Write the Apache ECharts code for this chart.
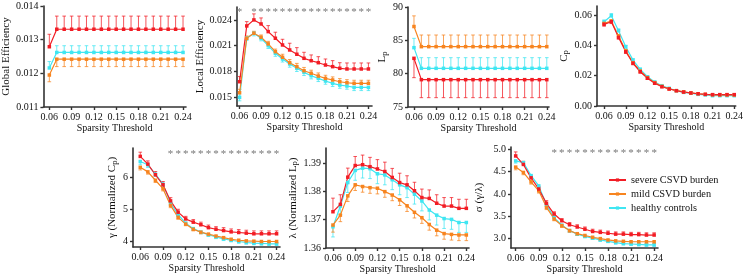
<!DOCTYPE html>
<html><head><meta charset="utf-8">
<script src="https://cdn.jsdelivr.net/npm/echarts@6/dist/echarts.min.js"></script>
<style>html,body{margin:0;padding:0;background:#fff}#c{width:746px;height:276px}</style>
</head><body><div id="c"></div>
<script>
// ---------- data ----------
const thresholds = [0.06,0.07,0.08,0.09,0.10,0.11,0.12,0.13,0.14,0.15,0.16,0.17,0.18,0.19,0.20,0.21,0.22,0.23,0.24];
const xTickValues = [0.06,0.09,0.12,0.15,0.18,0.21,0.24];
const groupNames = ['severe CSVD burden','mild CSVD burden','healthy controls'];

// Global efficiency
const geSevere  = [0.01279,0.01331,0.01331,0.01331,0.01331,0.01331,0.01331,0.01331,0.01331,0.01331,0.01331,0.01331,0.01331,0.01331,0.01331,0.01331,0.01331,0.01331,0.01331];
const geMild    = [0.01195,0.01242,0.01242,0.01242,0.01242,0.01242,0.01242,0.01242,0.01242,0.01242,0.01242,0.01242,0.01242,0.01242,0.01242,0.01242,0.01242,0.01242,0.01242];
const geHealthy = [0.01216,0.01262,0.01262,0.01262,0.01262,0.01262,0.01262,0.01262,0.01262,0.01262,0.01262,0.01262,0.01262,0.01262,0.01262,0.01262,0.01262,0.01262,0.01262];
const geSevereErr  = [0.00037,0.00039,0.00039,0.00039,0.00039,0.00039,0.00039,0.00039,0.00039,0.00039,0.00039,0.00039,0.00039,0.00039,0.00039,0.00039,0.00039,0.00039,0.00039];
const geMildErr    = [0.0002,0.00022,0.00022,0.00022,0.00022,0.00022,0.00022,0.00022,0.00022,0.00022,0.00022,0.00022,0.00022,0.00022,0.00022,0.00022,0.00022,0.00022,0.00022];
const geHealthyErr = [0.00019,0.0002,0.0002,0.0002,0.0002,0.0002,0.0002,0.0002,0.0002,0.0002,0.0002,0.0002,0.0002,0.0002,0.0002,0.0002,0.0002,0.0002,0.0002];
const geTicks = [0.011,0.012,0.013,0.014];

// Local efficiency
const leSevere  = [0.01682,0.0233,0.0240,0.02353,0.02264,0.02187,0.02109,0.02051,0.02001,0.01954,0.01926,0.01903,0.01876,0.01857,0.01838,0.0183,0.0183,0.0183,0.0183];
const leMild    = [0.01554,0.02187,0.02245,0.02199,0.02121,0.02031,0.01966,0.01903,0.01857,0.0181,0.0178,0.01748,0.01721,0.01702,0.01682,0.0167,0.01663,0.01663,0.01663];
const leHealthy = [0.0150,0.0219,0.02245,0.02187,0.02101,0.02012,0.01946,0.01888,0.01838,0.01791,0.01752,0.01721,0.0169,0.01663,0.01643,0.01632,0.01616,0.01616,0.01616];
const leSevereErr  = [0.0006,0.0005,0.0007,0.0007,0.0007,0.0007,0.00066,0.00078,0.00077,0.0007,0.00067,0.0007,0.0007,0.0007,0.00065,0.0007,0.0007,0.0007,0.0007];
const leMildErr    = [0.0004,0.00027,0.00023,0.00026,0.0003,0.0003,0.00035,0.00037,0.00038,0.00038,0.00036,0.00036,0.00036,0.00036,0.00036,0.00036,0.00036,0.00036,0.00036];
const leHealthyErr = [0.0004,0.0003,0.0003,0.0003,0.00033,0.00035,0.00035,0.00037,0.00037,0.00037,0.00037,0.00037,0.00037,0.00037,0.00037,0.00037,0.00037,0.00037,0.00037];
const leTicks = [0.015,0.018,0.021,0.024];
const leSig = [0.06,0.08,0.09,0.10,0.11,0.12,0.13,0.14,0.15,0.16,0.17,0.18,0.19,0.20,0.21,0.22,0.23,0.24];

// Characteristic path length
const lpSevere  = [82.3,79.1,79.1,79.1,79.1,79.1,79.1,79.1,79.1,79.1,79.1,79.1,79.1,79.1,79.1,79.1,79.1,79.1,79.1];
const lpMild    = [87.07,84.05,84.05,84.05,84.05,84.05,84.05,84.05,84.05,84.05,84.05,84.05,84.05,84.05,84.05,84.05,84.05,84.05,84.05];
const lpHealthy = [83.9,80.8,80.8,80.8,80.8,80.8,80.8,80.8,80.8,80.8,80.8,80.8,80.8,80.8,80.8,80.8,80.8,80.8,80.8];
const lpSevereErr  = [2.9,2.7,2.7,2.7,2.7,2.7,2.7,2.7,2.7,2.7,2.7,2.7,2.7,2.7,2.7,2.7,2.7,2.7,2.7];
const lpMildErr    = [1.6,1.75,1.75,1.75,1.75,1.75,1.75,1.75,1.75,1.75,1.75,1.75,1.75,1.75,1.75,1.75,1.75,1.75,1.75];
const lpHealthyErr = [1.4,1.6,1.6,1.6,1.6,1.6,1.6,1.6,1.6,1.6,1.6,1.6,1.6,1.6,1.6,1.6,1.6,1.6,1.6];
const lpTicks = [75,80,85,90];

// Clustering coefficient
const cpSevere  = [0.0539,0.0556,0.0453,0.0358,0.0282,0.0226,0.0183,0.0150,0.0127,0.0112,0.0101,0.0092,0.0086,0.0081,0.0077,0.0075,0.0075,0.0075,0.0075];
const cpMild    = [0.0545,0.0561,0.0462,0.0365,0.0286,0.0231,0.0187,0.0154,0.0130,0.0114,0.0101,0.0093,0.0086,0.0081,0.0077,0.0074,0.0073,0.0073,0.0073];
const cpHealthy = [0.0556,0.0596,0.0497,0.0391,0.0303,0.0242,0.0193,0.0158,0.0134,0.0117,0.0101,0.0090,0.0084,0.0077,0.0073,0.0068,0.0068,0.0068,0.0068];
const cpSevereErr  = [0.0012,0.0012,0.0012,0.0011,0.0010,0.0009,0.0008,0.0007,0.0006,0.0005,0.0005,0.0005,0.0005,0.0005,0.0005,0.0005,0.0005,0.0005,0.0005];
const cpMildErr    = [0.0008,0.0009,0.0009,0.0008,0.0008,0.0007,0.0006,0.0005,0.0005,0.0004,0.0004,0.0004,0.0004,0.0004,0.0004,0.0004,0.0004,0.0004,0.0004];
const cpHealthyErr = [0.0012,0.0014,0.0012,0.0010,0.0009,0.0008,0.0007,0.0006,0.0005,0.0005,0.0004,0.0004,0.0004,0.0004,0.0004,0.0004,0.0004,0.0004,0.0004];
const cpTicks = [0.00,0.02,0.04,0.06];

// gamma (normalized Cp)
const gaSevere  = [6.64,6.40,6.07,5.76,5.26,4.91,4.70,4.60,4.52,4.43,4.38,4.34,4.30,4.28,4.26,4.24,4.24,4.24,4.24];
const gaMild    = [6.30,6.16,5.90,5.64,5.12,4.75,4.54,4.38,4.29,4.23,4.17,4.12,4.07,4.04,4.02,4.01,4.00,4.00,4.00];
const gaHealthy = [6.48,6.38,6.09,5.78,5.19,4.83,4.57,4.40,4.29,4.21,4.14,4.08,4.04,4.00,3.97,3.95,3.94,3.93,3.93];
const gaSevereErr  = [0.13,0.10,0.10,0.10,0.10,0.09,0.08,0.08,0.08,0.08,0.08,0.09,0.09,0.09,0.09,0.09,0.09,0.09,0.09];
const gaMildErr    = [0.08,0.07,0.07,0.07,0.07,0.06,0.05,0.05,0.05,0.05,0.05,0.05,0.05,0.05,0.05,0.05,0.05,0.05,0.05];
const gaHealthyErr = [0.10,0.08,0.07,0.07,0.07,0.06,0.06,0.05,0.05,0.05,0.05,0.05,0.05,0.05,0.05,0.05,0.05,0.05,0.05];
const gaTicks = [4,5,6];
const gaSig = [0.10,0.11,0.12,0.13,0.14,0.15,0.16,0.17,0.18,0.19,0.20,0.21,0.22,0.23,0.24];

// lambda (normalized Lp)
const laSevere  = [1.3728,1.3754,1.3850,1.3891,1.3894,1.3887,1.3879,1.3870,1.3849,1.3831,1.3823,1.3802,1.3778,1.3775,1.3758,1.3748,1.3748,1.3740,1.3740];
const laMild    = [1.3681,1.3716,1.3784,1.3823,1.3817,1.3813,1.3811,1.3799,1.3787,1.3770,1.3749,1.3726,1.3707,1.3683,1.3663,1.3651,1.3648,1.3646,1.3646];
const laHealthy = [1.3675,1.3748,1.3831,1.3874,1.3882,1.3880,1.3862,1.3858,1.3841,1.3823,1.3813,1.3790,1.3766,1.3734,1.3716,1.3704,1.3701,1.3690,1.3690];
const laSevereErr  = [0.0048,0.0034,0.0032,0.0032,0.0034,0.0033,0.0033,0.0033,0.0032,0.0033,0.0032,0.0030,0.0030,0.0030,0.0030,0.0030,0.0030,0.0032,0.0032];
const laMildErr    = [0.0025,0.0023,0.0020,0.0020,0.0020,0.0020,0.0020,0.0020,0.0020,0.0020,0.0020,0.0020,0.0020,0.0020,0.0020,0.0020,0.0020,0.0020,0.0020];
const laHealthyErr = [0.0036,0.0030,0.0035,0.0035,0.0035,0.0035,0.0035,0.0035,0.0035,0.0035,0.0035,0.0035,0.0035,0.0035,0.0035,0.0035,0.0035,0.0035,0.0035];
const laTicks = [1.36,1.37,1.38,1.39];

// sigma (gamma/lambda)
const siSevere  = [4.85,4.66,4.36,4.11,3.79,3.55,3.40,3.31,3.26,3.21,3.16,3.14,3.12,3.10,3.10,3.09,3.09,3.08,3.08];
const siMild    = [4.60,4.48,4.27,4.07,3.70,3.44,3.29,3.18,3.11,3.07,3.03,3.00,2.97,2.95,2.94,2.93,2.93,2.93,2.93];
const siHealthy = [4.74,4.70,4.41,4.18,3.76,3.47,3.30,3.18,3.10,3.05,3.01,2.97,2.94,2.91,2.89,2.88,2.87,2.86,2.86];
const siSevereErr  = [0.09,0.07,0.06,0.06,0.06,0.05,0.05,0.05,0.05,0.05,0.05,0.05,0.05,0.05,0.05,0.05,0.05,0.05,0.05];
const siMildErr    = [0.06,0.05,0.05,0.05,0.05,0.04,0.04,0.04,0.04,0.04,0.04,0.04,0.04,0.04,0.04,0.04,0.04,0.04,0.04];
const siHealthyErr = [0.05,0.04,0.04,0.04,0.04,0.03,0.03,0.03,0.03,0.03,0.03,0.03,0.03,0.03,0.03,0.03,0.03,0.03,0.03];
const siTicks = [3.0,3.5,4.0,4.5,5.0];
const siSig = [0.11,0.12,0.13,0.14,0.15,0.16,0.17,0.18,0.19,0.20,0.21,0.22,0.23,0.24];

// ---------- styling / layout ----------
const COLORS = ['#f21c24', '#f7841f', '#3fe6f2'];
const SERIF = '"Liberation Serif", "Times New Roman", serif';
const AX = '#333';

const panels = [
  {vals:[geSevere,geMild,geHealthy], errs:[geSevereErr,geMildErr,geHealthyErr], dirs:[1,-1,1],
   grid:{left:43, top:6, width:143, height:101}, xMin:0.052, xMax:0.244, yMin:0.011, yMax:0.014,
   yTicks:geTicks, dec:3, yName:'Global Efficiency', nameGap:27},
  {vals:[leSevere,leMild,leHealthy], errs:[leSevereErr,leMildErr,leHealthyErr], dirs:[1,1,-1],
   grid:{left:237, top:7, width:135, height:99}, xMin:0.0564, xMax:0.245, yMin:0.014, yMax:0.0255,
   yTicks:leTicks, dec:3, yName:'Local Efficiency', nameGap:26, sig:leSig, sigY:0.02490},
  {vals:[lpSevere,lpMild,lpHealthy], errs:[lpSevereErr,lpMildErr,lpHealthyErr], dirs:[-1,1,1],
   grid:{left:408, top:7, width:141, height:100}, xMin:0.0519, xMax:0.243, yMin:75, yMax:90,
   yTicks:lpTicks, dec:0, yName:'{n|L}{s|p}', nameGap:16},
  {vals:[cpSevere,cpMild,cpHealthy], errs:[cpSevereErr,cpMildErr,cpHealthyErr], dirs:[-1,1,1],
   grid:{left:597, top:6, width:142, height:100}, xMin:0.0502, xMax:0.242, yMin:0, yMax:0.066,
   yTicks:cpTicks, dec:2, yName:'{n|C}{s|p}', nameGap:24},
  {vals:[gaSevere,gaMild,gaHealthy], errs:[gaSevereErr,gaMildErr,gaHealthyErr], dirs:[1,-1,-1],
   grid:{left:133, top:148, width:147, height:99}, xMin:0.0504, xMax:0.2445, yMin:3.83, yMax:6.9,
   yTicks:gaTicks, dec:0, yName:'{n|γ (Normalized C}{s|p}{n|)}', nameGap:13, sig:gaSig, sigY:6.72},
  {vals:[laSevere,laMild,laHealthy], errs:[laSevereErr,laMildErr,laHealthyErr], dirs:[1,-1,-1],
   grid:{left:326, top:148, width:143, height:100}, xMin:0.0506, xMax:0.2436, yMin:1.36, yMax:1.3953,
   yTicks:laTicks, dec:2, yName:'{n|λ (Normalized L}{s|p}{n|)}', nameGap:22},
  {vals:[siSevere,siMild,siHealthy], errs:[siSevereErr,siMildErr,siHealthyErr], dirs:[1,-1,-1],
   grid:{left:511, top:147, width:147, height:101}, xMin:0.0539, xMax:0.245, yMin:2.79, yMax:5.05,
   yTicks:siTicks, dec:1, yName:'{n|σ (γ/λ)}', nameGap:26, sig:siSig, sigY:4.91}
];

function renderErr(params, api) {
  const p0 = api.coord([api.value(0), api.value(1)]);
  const p1 = api.coord([api.value(0), api.value(2)]);
  const style = {stroke: api.visual('color'), lineWidth: 1, opacity: 0.75};
  return {type:'group', children:[
    {type:'line', shape:{x1:p0[0], y1:p0[1], x2:p1[0], y2:p1[1]}, style},
    {type:'line', shape:{x1:p1[0]-1.8, y1:p1[1], x2:p1[0]+1.8, y2:p1[1]}, style}
  ]};
}
function renderStar(params, api) {
  const c = api.coord([api.value(0), api.value(1)]);
  return {type:'text', x:c[0], y:c[1], style:{text:'*', fill:'#777', font:'11px ' + SERIF, align:'center', verticalAlign:'middle'}};
}

const grids = [], xAxes = [], yAxes = [], series = [];
panels.forEach((p, i) => {
  grids.push(Object.assign({containLabel:false}, p.grid));
  xAxes.push({
    gridIndex:i, type:'value', min:p.xMin, max:p.xMax,
    axisLine:{show:true, onZero:false, lineStyle:{color:AX, width:1.6}},
    axisTick:{show:true, customValues:xTickValues, length:3, lineStyle:{color:AX, width:1.4}},
    axisLabel:{customValues:xTickValues, formatter:v => v.toFixed(2), margin:5, fontFamily:SERIF, fontSize:10, color:'#111'},
    splitLine:{show:false},
    name:'Sparsity Threshold', nameLocation:'middle', nameGap:16,
    nameTextStyle:{fontFamily:SERIF, fontSize:10, color:'#111'}
  });
  yAxes.push({
    gridIndex:i, type:'value', min:p.yMin, max:p.yMax,
    axisLine:{show:true, onZero:false, lineStyle:{color:AX, width:1.6}},
    axisTick:{show:true, customValues:p.yTicks, length:3, lineStyle:{color:AX, width:1.4}},
    axisLabel:{customValues:p.yTicks, formatter:v => v.toFixed(p.dec), margin:5, fontFamily:SERIF, fontSize:10, color:'#111'},
    splitLine:{show:false},
    name:p.yName, nameLocation:'middle', nameGap:p.nameGap,
    nameTextStyle:{fontFamily:SERIF, fontSize:11, color:'#111',
      rich:{n:{fontFamily:SERIF, fontSize:11, color:'#111'}, s:{fontFamily:SERIF, fontSize:8.5, color:'#111', padding:[4,0,0,0]}}}
  });
  [2,1,0].forEach(g => {
    const vals = p.vals[g], errs = p.errs[g];
    series.push({
      type:'custom', xAxisIndex:i, yAxisIndex:i, silent:true, z:1,
      itemStyle:{color:COLORS[g]}, renderItem:renderErr,
      encode:{x:0, y:[1,2]},
      data: thresholds.map((x, k) => [x, vals[k], vals[k] + p.dirs[g] * errs[k]])
    });
    series.push({
      type:'line', name:groupNames[g], xAxisIndex:i, yAxisIndex:i, z:3,
      symbol:'rect', symbolSize:3.5, showSymbol:true,
      lineStyle:{color:COLORS[g], width:1.2}, itemStyle:{color:COLORS[g]},
      data: thresholds.map((x, k) => [x, vals[k]])
    });
  });
  if (p.sig) {
    series.push({
      type:'custom', xAxisIndex:i, yAxisIndex:i, silent:true, z:4, renderItem:renderStar,
      data: p.sig.map(x => [x, p.sigY])
    });
  }
});

const chart = echarts.init(document.getElementById('c'), null, {renderer:'canvas'});
chart.setOption({
  animation:false,
  backgroundColor:'#fff',
  grid:grids, xAxis:xAxes, yAxis:yAxes, series,
  legend:{
    data:groupNames, orient:'vertical', left:603, top:170,
    itemWidth:17, itemHeight:4, itemGap:4,
    textStyle:{fontFamily:SERIF, fontSize:10.3, color:'#111'}
  }
});
</script></body></html>
